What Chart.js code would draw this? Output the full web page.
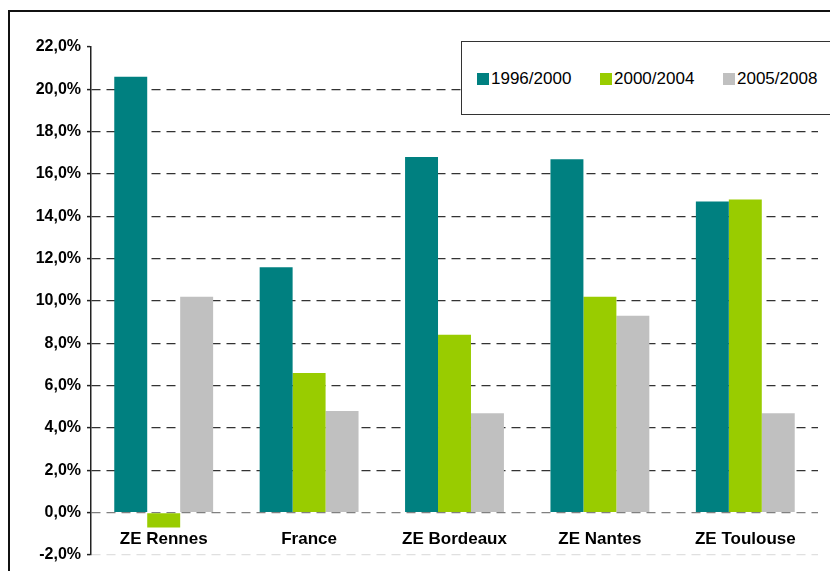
<!DOCTYPE html>
<html>
<head>
<meta charset="utf-8">
<script src="https://cdn.jsdelivr.net/npm/chart.js@4/dist/chart.umd.min.js"></script>
<style>
  html, body { margin: 0; padding: 0; background: #fff; }
  #wrap { position: relative; width: 830px; height: 571px; overflow: hidden; }
  #frame {
    position: absolute; left: 8px; top: 10px; width: 900px; height: 700px;
    border-top: 2px solid #111; border-left: 2px solid #111;
  }
  #legend {
    position: absolute; left: 461px; top: 41px; width: 400px; height: 72px;
    border: 1.5px solid #333; background: #fff;
    font-family: "Liberation Sans", Arial, sans-serif; font-size: 17px; color: #000;
  }
  #legend span.item { position: absolute; top: 27px; line-height: 20px; white-space: nowrap; }
  #legend i { display: inline-block; width: 12px; height: 12px; margin-right: 2px; vertical-align: -1px; }
  canvas { position: absolute; left: 0; top: 0; }
</style>
</head>
<body>
<div id="wrap">
  <div id="frame"></div>
  <canvas id="chart" width="830" height="571"></canvas>
  <div id="legend"></div>
</div>
<script>
// categories and series
const categories = ['ZE Rennes', 'France', 'ZE Bordeaux', 'ZE Nantes', 'ZE Toulouse'];
const seriesNames = ['1996/2000', '2000/2004', '2005/2008'];
const values1996 = [20.6, 11.6, 16.8, 16.7, 14.7];
const values2000 = [-0.7, 6.6, 8.4, 10.2, 14.8];
const values2005 = [10.2, 4.8, 4.7, 9.3, 4.7];
const seriesColors = ['#008080', '#99cc00', '#c0c0c0'];

const font = "'Liberation Sans', Arial, sans-serif";

// y axis width fixed so the plot starts at x=91
function fixYWidth(scale) { scale.width = 91; }

new Chart(document.getElementById('chart').getContext('2d'), {
  type: 'bar',
  data: {
    labels: categories,
    datasets: [values1996, values2000, values2005].map((vals, i) => ({
      label: seriesNames[i],
      data: vals,
      backgroundColor: seriesColors[i],
      borderWidth: 0,
      barPercentage: 1,
      categoryPercentage: 0.68,
    })),
  },
  options: {
    responsive: false,
    animation: false,
    layout: { padding: { top: 47, bottom: 16, left: 0, right: 12 } },
    plugins: { legend: { display: false }, tooltip: { enabled: false } },
    scales: {
      x: {
        position: { y: 0 },
        grid: { display: false, drawTicks: false },
        border: { display: false },
        ticks: {
          padding: 16,
          color: '#000',
          font: { family: font, size: 17, weight: 'bold' },
          maxRotation: 0,
        },
      },
      y: {
        min: -2,
        max: 22,
        afterFit: fixYWidth,
        // in v4 border.dash sets the dash of the grid lines
        border: { display: true, color: '#222', width: 1.5, dash: [9, 6] },
        grid: {
          color: ctx => {
            const v = ctx.tick.value;
            if (v === 22) return 'rgba(0,0,0,0)';
            if (v === 0) return '#808080';
            if (v === -2) return '#e0e0e0';
            return '#333';
          },
          lineWidth: 1.2,
          tickLength: 4,
          tickColor: '#222',
          tickBorderDash: [],
          tickWidth: 1.5,
        },
        ticks: {
          stepSize: 2,
          padding: 6,
          color: '#000',
          font: { family: font, size: 16, weight: 'bold' },
          callback: v => v.toFixed(1).replace('.', ',') + '%',
        },
      },
    },
  },
});

// HTML legend
const legendEl = document.getElementById('legend');
const legendLeft = [15, 138, 261];
seriesNames.forEach((name, i) => {
  const s = document.createElement('span');
  s.className = 'item';
  s.style.left = legendLeft[i] + 'px';
  s.innerHTML = `<i style="background:${seriesColors[i]}"></i>${name}`;
  legendEl.appendChild(s);
});
</script>
</body>
</html>
